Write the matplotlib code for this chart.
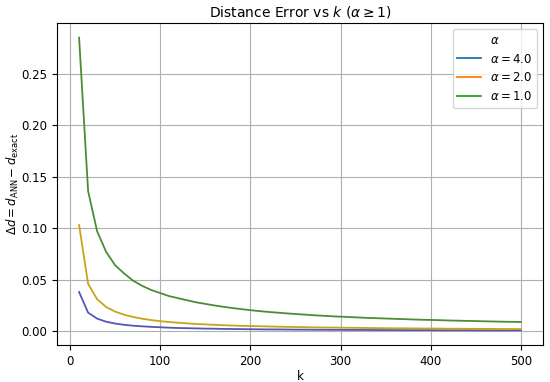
import numpy as np
import matplotlib.pyplot as plt
from matplotlib.lines import Line2D

k = np.arange(10, 501, 10)

err_a4 = [0.038, 0.018, 0.0122, 0.0092, 0.0074, 0.0062, 0.0053, 0.0047, 0.0042, 0.0038,
          0.0034, 0.0031, 0.0029, 0.0027, 0.0025, 0.0024, 0.0022, 0.0021, 0.0020, 0.0019,
          0.0018, 0.0017, 0.0017, 0.0016, 0.0015, 0.0015, 0.0014, 0.0014, 0.0013, 0.0013,
          0.0012, 0.0012, 0.0012, 0.0011, 0.0011, 0.0011, 0.0010, 0.0010, 0.0010, 0.0010,
          0.0009, 0.0009, 0.0009, 0.0009, 0.0008, 0.0008, 0.0008, 0.0008, 0.0008, 0.0008]
err_a2 = [0.103, 0.046, 0.031, 0.0235, 0.019, 0.0160, 0.0138, 0.0121, 0.0108, 0.0097,
          0.0089, 0.0082, 0.0076, 0.0070, 0.0066, 0.0062, 0.0058, 0.0055, 0.0052, 0.0050,
          0.0048, 0.0046, 0.0044, 0.0042, 0.0040, 0.0039, 0.0037, 0.0036, 0.0035, 0.0034,
          0.0033, 0.0032, 0.0031, 0.0030, 0.0029, 0.0028, 0.0028, 0.0027, 0.0026, 0.0026,
          0.0025, 0.0024, 0.0024, 0.0023, 0.0023, 0.0022, 0.0022, 0.0021, 0.0021, 0.0020]
err_a1 = [0.285, 0.136, 0.097, 0.077, 0.064, 0.056, 0.049, 0.044, 0.040, 0.037,
          0.034, 0.032, 0.030, 0.028, 0.0265, 0.025, 0.0237, 0.0225, 0.0214, 0.0204,
          0.0195, 0.0187, 0.0180, 0.0173, 0.0167, 0.0161, 0.0155, 0.0150, 0.0145, 0.0141,
          0.0137, 0.0133, 0.0129, 0.0126, 0.0123, 0.0120, 0.0117, 0.0114, 0.0111, 0.0109,
          0.0107, 0.0104, 0.0102, 0.0100, 0.0098, 0.0096, 0.0094, 0.0092, 0.0091, 0.0089]

alphas = ['4.0', '2.0', '1.0']
series = [err_a4, err_a2, err_a1]
line_colors = ['#5555bb', '#c8a416', '#4c8c34']
legend_colors = ['tab:blue', 'tab:orange', 'tab:green']

plt.rcParams['font.size'] = 8.5

fig, ax = plt.subplots(figsize=(5.5, 3.82), dpi=100)
fig.subplots_adjust(left=57/550, right=543/550, top=1-23/382, bottom=1-345/382)
for y, c in zip(series, line_colors):
    ax.plot(k, y, color=c, lw=1.3)

handles = [Line2D([], [], color=c, lw=1.3) for c in legend_colors]
ax.legend(handles, [rf'$\alpha = {a}$' for a in alphas], title=r'$\alpha$')
ax.set_title(r'Distance Error vs $k$ ($\alpha \geq 1$)', fontsize=10, pad=4.5)
ax.set_xlabel('k', labelpad=1.5)
ax.set_ylabel(r'$\Delta d = d_{\mathrm{ANN}} - d_{\mathrm{exact}}$', labelpad=0)
ax.grid(True)
fig.savefig('out.png')
